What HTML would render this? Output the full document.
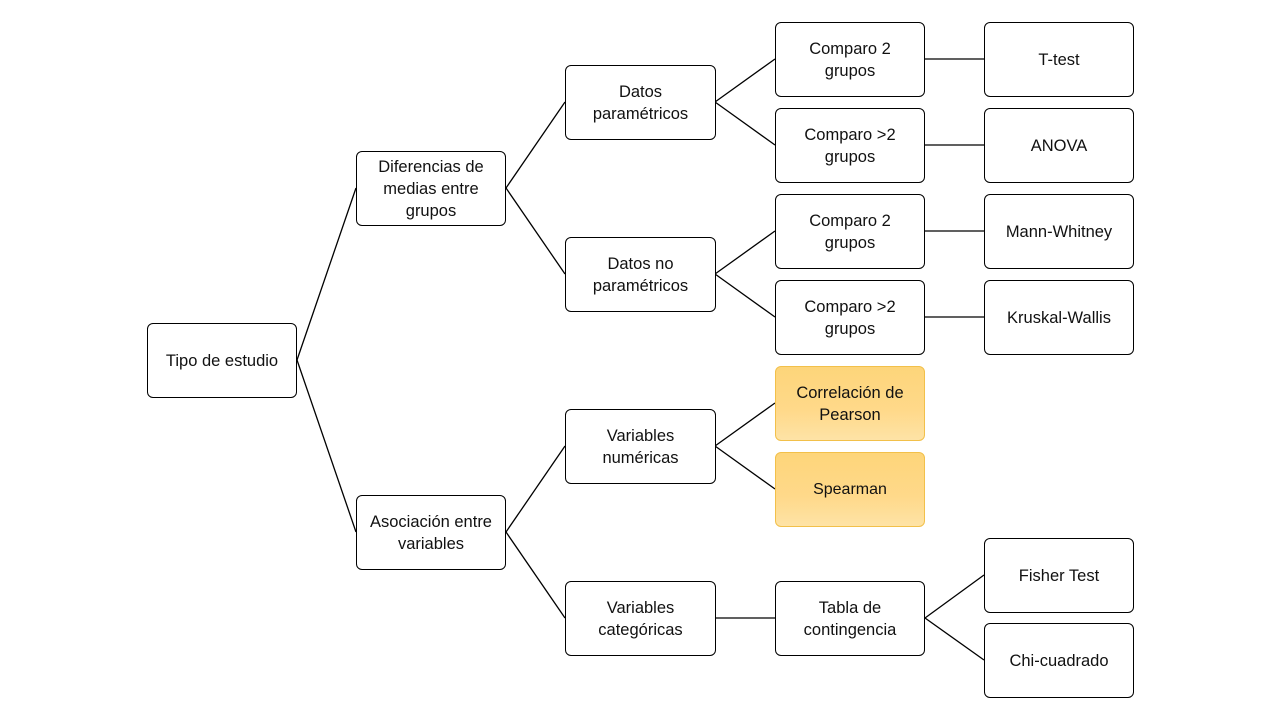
<!DOCTYPE html>
<html><head><meta charset="utf-8"><style>
body{margin:0;width:1280px;height:720px;background:#fff;position:relative;overflow:hidden;font-family:"Liberation Sans",sans-serif;}
.b{position:absolute;width:148px;height:72px;border:1px solid #000;border-radius:6px;background:#fff;display:flex;align-items:center;justify-content:center;text-align:center;font-size:16.5px;line-height:22px;color:#111;box-sizing:border-box;}
.y{background:linear-gradient(#fdd57a,#ffd98a 60%,#fee3a6);border-color:#f2c04a;}
svg{position:absolute;left:0;top:0}
</style></head><body>
<svg width="1280" height="720"><g stroke="#000" stroke-width="1.3" fill="none">
<line x1="297" y1="360" x2="356" y2="188"/><line x1="297" y1="360" x2="356" y2="532"/>
<line x1="506" y1="188" x2="565" y2="102"/><line x1="506" y1="188" x2="565" y2="274"/>
<line x1="506" y1="532" x2="565" y2="446"/><line x1="506" y1="532" x2="565" y2="618"/>
<line x1="715" y1="102" x2="775" y2="59"/><line x1="715" y1="102" x2="775" y2="145"/>
<line x1="715" y1="274" x2="775" y2="231"/><line x1="715" y1="274" x2="775" y2="317"/>
<line x1="715" y1="446" x2="775" y2="403"/><line x1="715" y1="446" x2="775" y2="489"/>
<line x1="715" y1="618" x2="775" y2="618"/>
<line x1="925" y1="59" x2="984" y2="59"/><line x1="925" y1="145" x2="984" y2="145"/>
<line x1="925" y1="231" x2="984" y2="231"/><line x1="925" y1="317" x2="984" y2="317"/>
<line x1="925" y1="618" x2="984" y2="575"/><line x1="925" y1="618" x2="984" y2="660"/>
</g></svg>
<div class="b" style="left:147px;top:323px;width:150px;height:75px">Tipo de estudio</div>
<div class="b" style="left:356px;top:151px;width:150px;height:75px">Diferencias de<br>medias entre<br>grupos</div>
<div class="b" style="left:356px;top:495px;width:150px;height:75px">Asociación entre<br>variables</div>
<div class="b" style="left:565px;top:65px;width:151px;height:75px">Datos<br>paramétricos</div>
<div class="b" style="left:565px;top:237px;width:151px;height:75px">Datos no<br>paramétricos</div>
<div class="b" style="left:565px;top:409px;width:151px;height:75px">Variables<br>numéricas</div>
<div class="b" style="left:565px;top:581px;width:151px;height:75px">Variables<br>categóricas</div>
<div class="b" style="left:775px;top:22px;width:150px;height:75px">Comparo 2<br>grupos</div>
<div class="b" style="left:775px;top:108px;width:150px;height:75px">Comparo &gt;2<br>grupos</div>
<div class="b" style="left:775px;top:194px;width:150px;height:75px">Comparo 2<br>grupos</div>
<div class="b" style="left:775px;top:280px;width:150px;height:75px">Comparo &gt;2<br>grupos</div>
<div class="b y" style="left:775px;top:366px;width:150px;height:75px">Correlación de<br>Pearson</div>
<div class="b y" style="left:775px;top:452px;width:150px;height:75px;font-size:16px">Spearman</div>
<div class="b" style="left:775px;top:581px;width:150px;height:75px">Tabla de<br>contingencia</div>
<div class="b" style="left:984px;top:22px;width:150px;height:75px">T-test</div>
<div class="b" style="left:984px;top:108px;width:150px;height:75px">ANOVA</div>
<div class="b" style="left:984px;top:194px;width:150px;height:75px">Mann-Whitney</div>
<div class="b" style="left:984px;top:280px;width:150px;height:75px">Kruskal-Wallis</div>
<div class="b" style="left:984px;top:538px;width:150px;height:75px">Fisher Test</div>
<div class="b" style="left:984px;top:623px;width:150px;height:75px">Chi-cuadrado</div>
</body></html>
